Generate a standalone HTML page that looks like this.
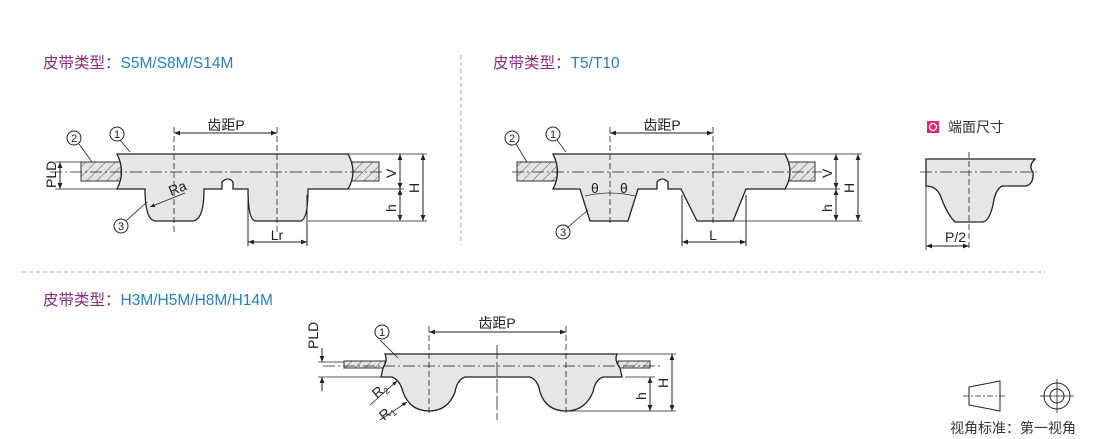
<!DOCTYPE html>
<html><head><meta charset="utf-8">
<style>
html,body{margin:0;padding:0;background:#fff;}
svg{display:block;}
text{font-family:"Liberation Sans","Noto Sans CJK SC",sans-serif;}
</style></head>
<body>
<svg width="1110" height="439" viewBox="0 0 1110 439" xmlns="http://www.w3.org/2000/svg">
<defs>
<pattern id="h" width="7" height="7" patternUnits="userSpaceOnUse" patternTransform="rotate(45)">
<rect width="7" height="7" fill="#e4e4e4"/><line x1="0" y1="0" x2="0" y2="7" stroke="#333" stroke-width="0.8"/>
</pattern>
<marker id="a" viewBox="0 0 10 10" refX="10" refY="5" markerWidth="7" markerHeight="6" orient="auto-start-reverse"><path d="M0,1 L10,5 L0,9 z" fill="#222"/></marker>
</defs>

<!-- titles -->
<text x="43" y="68" font-size="15.5" fill="#8a2b7e">皮带类型：<tspan fill="#2a7fc0">S5M/S8M/S14M</tspan></text>
<text x="493" y="68" font-size="15.5" fill="#8a2b7e">皮带类型：<tspan fill="#2a7fc0">T5/T10</tspan></text>
<text x="43" y="305" font-size="15.5" fill="#8a2b7e">皮带类型：<tspan fill="#2a7fc0">H3M/H5M/H8M/H14M</tspan></text>

<!-- separators -->
<line x1="461" y1="55" x2="461" y2="245" stroke="#aaa" stroke-dasharray="4,3"/>
<line x1="22" y1="272" x2="1045" y2="272" stroke="#aaa" stroke-dasharray="4,3"/>

<g stroke="#222" stroke-width="1" fill="none">
<!-- ===== Diagram 1 S5M ===== -->
<rect x="81" y="162" width="40" height="19" fill="url(#h)" stroke="#333"/>
<rect x="346" y="162" width="33" height="19" fill="url(#h)" stroke="#333"/>
<path d="M117,154 L348,154 Q358,172 348,189 L308,189 Q308,221 300,221 L256,221 Q248,221 248,189 L233,189 L233,182 Q228,176 222,182 L222,189 L204,189 Q204,221 192,221 L156,221 Q145,221 145,189 L117,189 Q126,172 117,154 Z" fill="#e6e6e6" stroke-width="1.3"/>
<line x1="50" y1="172" x2="385" y2="172" stroke-dasharray="12,3,2,3" stroke-width="0.8"/>
<line x1="174" y1="127" x2="174" y2="235" stroke-dasharray="6,3" stroke-width="0.8"/>
<line x1="277" y1="127" x2="277" y2="235" stroke-dasharray="6,3" stroke-width="0.8"/>
<line x1="174" y1="133" x2="277" y2="133" marker-start="url(#a)" marker-end="url(#a)"/>
<line x1="248" y1="195" x2="248" y2="246"/>
<line x1="307" y1="195" x2="307" y2="246"/>
<line x1="248" y1="242" x2="307" y2="242" marker-start="url(#a)" marker-end="url(#a)"/>
<line x1="348" y1="154" x2="427" y2="154" stroke-width="0.8"/>
<line x1="348" y1="189" x2="404" y2="189" stroke-width="0.8"/>
<line x1="308" y1="221" x2="427" y2="221" stroke-width="0.8"/>
<line x1="400" y1="154" x2="400" y2="189" marker-start="url(#a)" marker-end="url(#a)"/>
<line x1="400" y1="189" x2="400" y2="221" marker-start="url(#a)" marker-end="url(#a)"/>
<line x1="423" y1="154" x2="423" y2="221" marker-start="url(#a)" marker-end="url(#a)"/>
<line x1="55" y1="162" x2="81" y2="162" stroke-width="0.8"/>
<line x1="55" y1="189" x2="117" y2="189" stroke-width="0.8"/>
<line x1="60" y1="162" x2="60" y2="189" marker-start="url(#a)" marker-end="url(#a)"/>
<line x1="79" y1="144" x2="92" y2="162" stroke-width="0.8"/>
<line x1="120" y1="140" x2="130" y2="152" stroke-width="0.8"/>
<line x1="126" y1="221" x2="147" y2="202" stroke-width="0.8"/>
<line x1="150" y1="207" x2="185" y2="193" stroke-width="0.8" marker-start="url(#a)"/>
<circle cx="74" cy="138" r="7"/>
<circle cx="117" cy="134" r="7"/>
<circle cx="121" cy="226" r="7"/>

<!-- ===== Diagram 2 T5 ===== -->
<rect x="517" y="162" width="40" height="19" fill="url(#h)" stroke="#333"/>
<rect x="783" y="162" width="32" height="19" fill="url(#h)" stroke="#333"/>
<path d="M553,154 L785,154 Q795,172 785,189 L746,189 L733,221 L697,221 L681,189 L668,189 L668,182 Q662,176 657,182 L657,189 L638,189 L628,221 L590,221 L580,189 L553,189 Q562,172 553,154 Z" fill="#e6e6e6" stroke-width="1.3"/>
<line x1="512" y1="172" x2="822" y2="172" stroke-dasharray="12,3,2,3" stroke-width="0.8"/>
<line x1="610" y1="127" x2="610" y2="225" stroke-dasharray="6,3" stroke-width="0.8"/>
<line x1="713" y1="127" x2="713" y2="225" stroke-dasharray="6,3" stroke-width="0.8"/>
<line x1="610" y1="133" x2="713" y2="133" marker-start="url(#a)" marker-end="url(#a)"/>
<path d="M585,196 Q610,190 635,196" stroke-width="0.8"/>
<line x1="682" y1="195" x2="682" y2="246"/>
<line x1="746" y1="195" x2="746" y2="246"/>
<line x1="682" y1="242" x2="746" y2="242" marker-start="url(#a)" marker-end="url(#a)"/>
<line x1="785" y1="154" x2="862" y2="154" stroke-width="0.8"/>
<line x1="785" y1="189" x2="840" y2="189" stroke-width="0.8"/>
<line x1="733" y1="221" x2="862" y2="221" stroke-width="0.8"/>
<line x1="836" y1="154" x2="836" y2="189" marker-start="url(#a)" marker-end="url(#a)"/>
<line x1="836" y1="189" x2="836" y2="221" marker-start="url(#a)" marker-end="url(#a)"/>
<line x1="858" y1="154" x2="858" y2="221" marker-start="url(#a)" marker-end="url(#a)"/>
<line x1="516" y1="144" x2="527" y2="162" stroke-width="0.8"/>
<line x1="557" y1="140" x2="566" y2="152" stroke-width="0.8"/>
<line x1="567" y1="228" x2="588" y2="210" stroke-width="0.8"/>
<circle cx="512" cy="138" r="7"/>
<circle cx="553" cy="134" r="7"/>
<circle cx="563" cy="232" r="7"/>

<!-- ===== Diagram 3 end face ===== -->
<path d="M926,159 L1035,159 Q1028,166 1033,172 Q1034,184 1026,186 L1002,186 Q995,190 993,205 Q989,222 982,222 L955,222 Q948,215 942,200 Q938,186 926,186 Z" fill="#e6e6e6" stroke-width="1.3"/>
<line x1="920" y1="172" x2="1040" y2="172" stroke-dasharray="12,3,2,3" stroke-width="0.8"/>
<line x1="969" y1="152" x2="969" y2="250" stroke-dasharray="6,3" stroke-width="0.8"/>
<line x1="926" y1="186" x2="926" y2="250" stroke-width="0.8"/>
<line x1="926" y1="246" x2="969" y2="246" marker-start="url(#a)" marker-end="url(#a)"/>

<!-- ===== Diagram 4 H ===== -->
<rect x="344" y="361" width="41" height="7" fill="url(#h)" stroke="#333"/>
<rect x="618" y="361" width="32" height="7" fill="url(#h)" stroke="#333"/>
<path d="M385,354 L617,354 Q614,360 620,368 L622,377 L603,377 Q595,380 593,392 Q585,411 566,411 Q546,411 540,392 Q538,380 530,377 L465,377 Q457,380 455,392 Q448,411 429,411 Q410,411 403,392 Q400,380 392,377 L381,377 L383,368 Q388,360 385,354 Z" fill="#e6e6e6" stroke-width="1.3"/>
<line x1="323" y1="366" x2="660" y2="366" stroke-dasharray="12,3,2,3" stroke-width="0.8"/>
<line x1="429" y1="326" x2="429" y2="415" stroke-dasharray="6,3" stroke-width="0.8"/>
<line x1="566" y1="326" x2="566" y2="415" stroke-dasharray="6,3" stroke-width="0.8"/>
<line x1="497" y1="345" x2="497" y2="420" stroke-dasharray="14,3" stroke-width="0.8"/>
<line x1="429" y1="332" x2="566" y2="332" marker-start="url(#a)" marker-end="url(#a)"/>
<line x1="617" y1="354" x2="676" y2="354" stroke-width="0.8"/>
<line x1="625" y1="377" x2="655" y2="377" stroke-width="0.8"/>
<line x1="566" y1="411" x2="676" y2="411" stroke-width="0.8"/>
<line x1="650" y1="377" x2="650" y2="411" marker-start="url(#a)" marker-end="url(#a)"/>
<line x1="672" y1="354" x2="672" y2="411" marker-start="url(#a)" marker-end="url(#a)"/>
<line x1="318" y1="362" x2="344" y2="362" stroke-width="0.8"/>
<line x1="318" y1="377" x2="381" y2="377" stroke-width="0.8"/>
<line x1="322" y1="348" x2="322" y2="362" marker-end="url(#a)"/>
<line x1="322" y1="391" x2="322" y2="377" marker-end="url(#a)"/>
<line x1="380" y1="340" x2="398" y2="358" stroke-width="0.8"/>
<circle cx="382" cy="332" r="7"/>
<line x1="370" y1="405" x2="397" y2="381" stroke-width="0.8" marker-end="url(#a)"/>
<line x1="380" y1="420" x2="407" y2="402" stroke-width="0.8" marker-end="url(#a)"/>

<!-- view symbol -->
<path d="M969,387 L1000,381 L1000,411 L969,405 Z"/>
<line x1="963" y1="396" x2="1006" y2="396" stroke-dasharray="6,2,2,2" stroke-width="0.8"/>
<circle cx="1057" cy="396" r="13"/>
<circle cx="1057" cy="396" r="7"/>
<line x1="1040" y1="396" x2="1074" y2="396" stroke-width="0.8"/>
<line x1="1057" y1="379" x2="1057" y2="413" stroke-width="0.8"/>
</g>

<!-- text labels -->
<g fill="#222" font-size="14">
<text x="226" y="130" text-anchor="middle">齿距P</text>
<text x="662" y="130" text-anchor="middle">齿距P</text>
<text x="497" y="328" text-anchor="middle">齿距P</text>
<text x="277" y="240" text-anchor="middle">Lr</text>
<text x="713" y="240" text-anchor="middle">L</text>
<text x="171" y="196" transform="rotate(-22 171 196)">Ra</text>
<text x="591" y="193">θ</text>
<text x="620" y="193">θ</text>
<text x="945" y="242">P/2</text>
<text transform="translate(56,188) rotate(-90)">PLD</text>
<text transform="translate(318,349) rotate(-90)">PLD</text>
<text transform="translate(396,178) rotate(-90)">V</text>
<text transform="translate(419,193) rotate(-90)">H</text>
<text transform="translate(396,212) rotate(-90)">h</text>
<text transform="translate(832,178) rotate(-90)">V</text>
<text transform="translate(854,193) rotate(-90)">H</text>
<text transform="translate(832,212) rotate(-90)">h</text>
<text transform="translate(668,388) rotate(-90)">H</text>
<text transform="translate(646,400) rotate(-90)">h</text>
<text transform="translate(377,399) rotate(-40)">R<tspan font-size="9" dy="3">2</tspan></text>
<text transform="translate(384,421) rotate(-40)">R<tspan font-size="9" dy="3">1</tspan></text>
</g>
<g fill="#222" font-size="11" text-anchor="middle">
<text x="74" y="142">2</text><text x="117" y="138">1</text><text x="121" y="230">3</text>
<text x="512" y="142">2</text><text x="553" y="138">1</text><text x="563" y="236">3</text>
<text x="382" y="336">1</text>
</g>
<rect x="927" y="121" width="12" height="12" fill="#e0287a"/>
<circle cx="933" cy="127" r="3.5" fill="none" stroke="#fff" stroke-width="1.2"/>
<text x="948" y="132" font-size="14" fill="#333">端面尺寸</text>
<text x="950" y="433" font-size="14" fill="#333">视角标准：第一视角</text>
</svg>
</body></html>
